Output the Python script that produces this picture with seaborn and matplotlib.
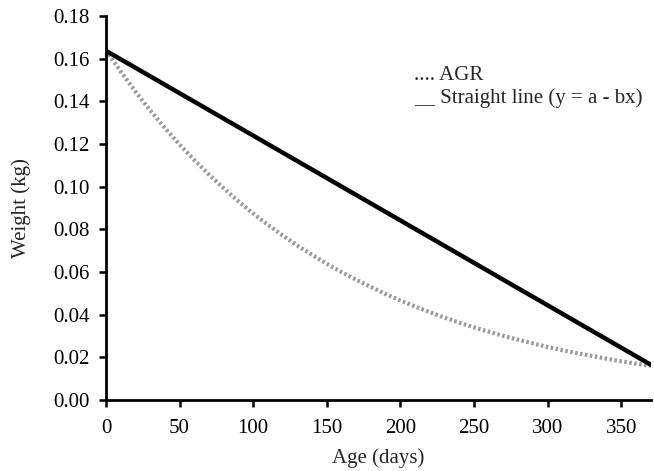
import matplotlib
matplotlib.use("Agg")
import matplotlib.pyplot as plt
import seaborn as sns
import pandas as pd

# values
age_agr = [0, 10, 20, 30, 40, 50, 60, 70, 80, 90, 100, 110, 120, 130, 140, 150, 160, 170, 180,
           190, 200, 210, 220, 230, 240, 250, 260, 270, 280, 290, 300, 310, 320, 330, 340, 350, 360, 370]
weight_agr = [0.1640, 0.1540, 0.1446, 0.1358, 0.1275, 0.1197, 0.1125, 0.1056, 0.0992, 0.0931,
              0.0874, 0.0821, 0.0771, 0.0724, 0.0680, 0.0638, 0.0599, 0.0563, 0.0529, 0.0496,
              0.0466, 0.0438, 0.0411, 0.0386, 0.0362, 0.0340, 0.0320, 0.0300, 0.0282, 0.0265,
              0.0248, 0.0233, 0.0219, 0.0206, 0.0193, 0.0181, 0.0170, 0.0160]
age_line = [0, 370]
weight_line = [0.1637, 0.0165]
xticks = [0, 50, 100, 150, 200, 250, 300, 350]
yticks = [0.00, 0.02, 0.04, 0.06, 0.08, 0.10, 0.12, 0.14, 0.16, 0.18]

df_agr = pd.DataFrame({'age': age_agr, 'weight': weight_agr})
df_line = pd.DataFrame({'age': age_line, 'weight': weight_line})

sns.set_style("ticks")
plt.rcParams['font.family'] = ['Liberation Serif', 'DejaVu Serif']

fig = plt.figure(figsize=(6.54, 4.71), dpi=100)
ax = fig.add_axes([0.162, 0.151, 0.833, 0.815])

sns.lineplot(x='age', y='weight', data=df_agr, ax=ax, color='#9a9a9a', linewidth=3,
             linestyle=(0, (0.6, 0.6)))
sns.lineplot(x='age', y='weight', data=df_line, ax=ax, color='black', linewidth=3.2)

ax.set(xlim=(0, 370), ylim=(0, 0.18), xticks=xticks, yticks=yticks)
ax.set_yticklabels(['%.2f' % v for v in yticks])
ax.set_xlabel('Age (days)', fontsize=15, labelpad=7)
ax.set_ylabel('Weight (kg)', fontsize=15, labelpad=16)
ax.tick_params(labelsize=15, width=1.8, length=5, direction='out', colors='black')
ax.tick_params(axis='x', pad=9)
ax.tick_params(axis='y', pad=7)
for s in ['left', 'bottom']:
    ax.spines[s].set_linewidth(2)
    ax.spines[s].set_color('black')
sns.despine(ax=ax)

ax.text(0.565, 0.844, '.... AGR', transform=ax.transAxes, fontsize=15, va='center')
ax.text(0.565, 0.786, '__ Straight line (y = a - bx)', transform=ax.transAxes, fontsize=15,
        va='center')

fig.savefig('out.png', dpi=100)
